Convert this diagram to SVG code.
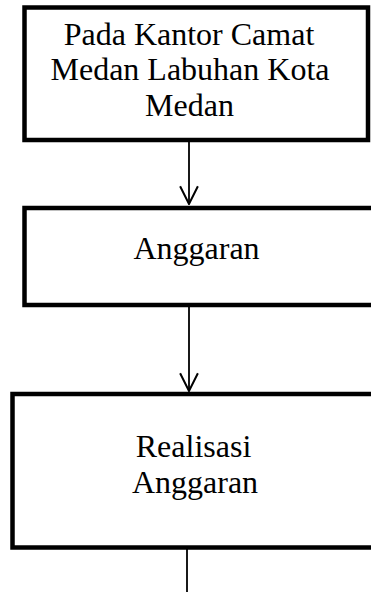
<svg xmlns="http://www.w3.org/2000/svg" width="371" height="592" viewBox="0 0 371 592">
<style>
.box{fill:#fff;stroke:#000;stroke-width:4.5}
.lbl{font-family:"Liberation Serif","Times New Roman",serif;font-size:32px;fill:#000;text-anchor:middle}
.conn{stroke:#000;stroke-width:1.8;fill:none}
</style>
<defs>
<marker id="arr" markerWidth="20" markerHeight="20" refX="17" refY="9" orient="auto" markerUnits="userSpaceOnUse" viewBox="0 0 18 18">
<path d="M1,1 L17,9 L1,17" fill="none" stroke="#000" stroke-width="1.8"/>
</marker>
</defs>
<g id="node-kantor">
<rect class="box" x="24.5" y="7.5" width="343.5" height="132.5"/>
<text class="lbl" x="189" y="44.5">Pada Kantor Camat</text>
<text class="lbl" x="190" y="80">Medan Labuhan Kota</text>
<text class="lbl" x="189.5" y="115.5">Medan</text>
</g>
<g id="node-anggaran">
<rect class="box" x="24.5" y="208" width="352" height="97"/>
<text class="lbl" x="196.5" y="258.5">Anggaran</text>
</g>
<g id="node-realisasi">
<rect class="box" x="12.5" y="394" width="364" height="153.5"/>
<text class="lbl" x="193.5" y="457">Realisasi</text>
<text class="lbl" x="195" y="492.5">Anggaran</text>
</g>
<g id="connectors">
<line class="conn" x1="189" y1="142" x2="189" y2="204" marker-end="url(#arr)"/>
<line class="conn" x1="189" y1="307" x2="189" y2="391" marker-end="url(#arr)"/>
<line class="conn" x1="187" y1="549" x2="187" y2="592"/>
</g>
</svg>
